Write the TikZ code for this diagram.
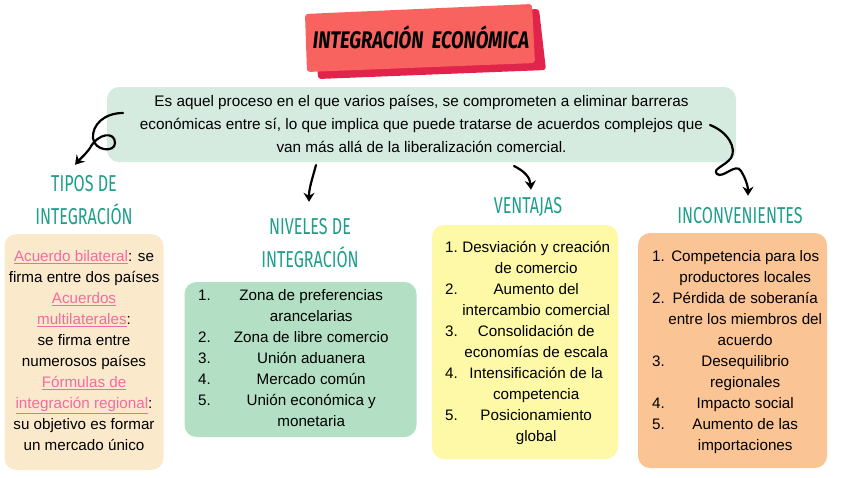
\documentclass[tikz,border=0pt]{standalone}
\usepackage{fontspec}
\usepackage{array}
\setmainfont{Liberation Sans}
\newfontfamily\headfont[FakeStretch=0.7]{Fira Sans}
\newfontfamily\titlefont[FakeStretch=0.77]{Fira Sans}
\usetikzlibrary{arrows.meta}

\definecolor{titlered}{HTML}{F8625F}
\definecolor{titleshade}{HTML}{E2234B}
\definecolor{descgreen}{HTML}{D5EBDF}
\definecolor{headteal}{HTML}{1F9E8C}
\definecolor{tiposfill}{HTML}{FBE9CC}
\definecolor{nivelfill}{HTML}{B3E0C5}
\definecolor{ventfill}{HTML}{FDF9A6}
\definecolor{incofill}{HTML}{FAC495}
\definecolor{linkpink}{HTML}{F46BA0}

\newcommand{\enlace}[1]{\textcolor{linkpink}{\underline{#1}}}

\begin{document}
\begin{tikzpicture}[x=1pt, y=-1pt, >={Stealth[length=9pt,width=11pt,inset=3pt]},
    panel/.style={rounded corners=12pt, inner sep=0pt},
    heading/.style={text=headteal, inner sep=0pt, font=\headfont\fontsize{23}{33}\selectfont},
    listtext/.style={inner sep=0pt, anchor=north west, font=\fontsize{15.2}{21}\selectfont},
    curly/.style={->, line width=2.2pt, line cap=round}]
    \useasboundingbox (0,0) rectangle (848,477);

    % Title
    \fill[titleshade, rounded corners=3pt] (315,19) -- (539,9) -- (546,70) -- (318,79) -- cycle;
    \fill[titlered, rounded corners=3pt] (305,14) -- (532,4) -- (535,63) -- (307,72) -- cycle;
    \node[inner sep=0pt, font=\titlefont\bfseries\itshape\fontsize{24}{24}\selectfont] (title) at (421,37) {INTEGRACIÓN\ \ ECONÓMICA};

    % Definition
    \node[panel, fill=descgreen, minimum width=629pt, minimum height=75pt, font=\fontsize{15.3}{23}\selectfont] (desc) at (421.5,124.5)
        {\begin{tabular}{@{}c@{}}
        Es aquel proceso en el que varios países, se comprometen a eliminar barreras\\
        económicas entre sí, lo que implica que puede tratarse de acuerdos complejos que\\
        van más allá de la liberalización comercial.
        \end{tabular}};

    % Headings
    \node[heading] (tiposhead) at (84,201) {\begin{tabular}{@{}c@{}}TIPOS DE\\INTEGRACIÓN\end{tabular}};
    \node[heading] (nivelhead) at (310,244) {\begin{tabular}{@{}c@{}}NIVELES DE\\INTEGRACIÓN\end{tabular}};
    \node[heading] (venthead) at (528,206.4) {\begin{tabular}{@{}c@{}}VENTAJAS\end{tabular}};
    \node[heading] (incohead) at (740,216.4) {\begin{tabular}{@{}c@{}}INCONVENIENTES\end{tabular}};

    % Boxes
    \node[panel, fill=tiposfill, minimum width=159pt, minimum height=236pt, font=\fontsize{15.2}{21}\selectfont] (tiposbox) at (84,352)
        {\begin{tabular}{@{}c@{}}
        \enlace{Acuerdo bilateral}: se\\
        firma entre dos países\\
        \enlace{Acuerdos}\\
        \enlace{multilaterales}:\\
        se firma entre\\
        numerosos países\\
        \enlace{Fórmulas de}\\
        \enlace{integración regional}:\\
        su objetivo es formar\\
        un mercado único
        \end{tabular}};
    \node[panel, fill=nivelfill, minimum width=232pt, minimum height=155pt] (nivelbox) at (300.5,359.5) {};
    \node[panel, fill=ventfill, minimum width=186pt, minimum height=234pt] (ventbox) at (525,342) {};
    \node[panel, fill=incofill, minimum width=189pt, minimum height=235pt] (incobox) at (732.5,350.5) {};

    % Lists
    \node[listtext] (nivellist) at (198,285.3)
        {\begin{tabular}{@{}p{33pt}@{}>{\centering\arraybackslash}p{160pt}@{}}
        1. & Zona de preferencias\\
           & arancelarias\\
        2. & Zona de libre comercio\\
        3. & Unión aduanera\\
        4. & Mercado común\\
        5. & Unión económica y\\
           & monetaria
        \end{tabular}};
    \node[listtext] (ventlist) at (445,237.3)
        {\begin{tabular}{@{}p{11pt}@{}>{\centering\arraybackslash}p{160pt}@{}}
        1. & Desviación y creación\\
           & de comercio\\
        2. & Aumento del\\
           & intercambio comercial\\
        3. & Consolidación de\\
           & economías de escala\\
        4. & Intensificación de la\\
           & competencia\\
        5. & Posicionamiento\\
           & global
        \end{tabular}};
    \node[listtext] (incolist) at (652,246.3)
        {\begin{tabular}{@{}p{10pt}@{}>{\centering\arraybackslash}p{166pt}@{}}
        1. & Competencia para los\\
           & productores locales\\
        2. & Pérdida de soberanía\\
           & entre los miembros del\\
           & acuerdo\\
        3. & Desequilibrio\\
           & regionales\\
        4. & Impacto social\\
        5. & Aumento de las\\
           & importaciones
        \end{tabular}};

    % Arrows
    \coordinate (tiposfrom) at (123,113);
    \coordinate (nivelfrom) at (316,165);
    \coordinate (ventfrom) at (514,166);
    \coordinate (incofrom) at (710,125);
    \draw[curly] (tiposfrom) .. controls (104,113) and (92,125) .. (93,138)
        .. controls (94,151) and (115,153) .. (115,143)
        .. controls (115,131) and (98,133) .. (90,148)
        .. controls (85,155) and (80,159) .. ([xshift=-9pt,yshift=3pt]tiposhead.north);
    \draw[curly] (nivelfrom) .. controls (312,180) and (309,188) .. ([xshift=-1pt,yshift=9pt]nivelhead.north);
    \draw[curly] (ventfrom) .. controls (524,171) and (530,177) .. ([xshift=3pt]venthead.north);
    \draw[curly] (incofrom) .. controls (728,132) and (737,148) .. (731,158)
        .. controls (725,166) and (712,169) .. (717,174)
        .. controls (723,179) and (736,162) .. (741,171)
        .. controls (746,179) and (748,187) .. ([xshift=8pt,yshift=4pt]incohead.north);
\end{tikzpicture}
\end{document}
